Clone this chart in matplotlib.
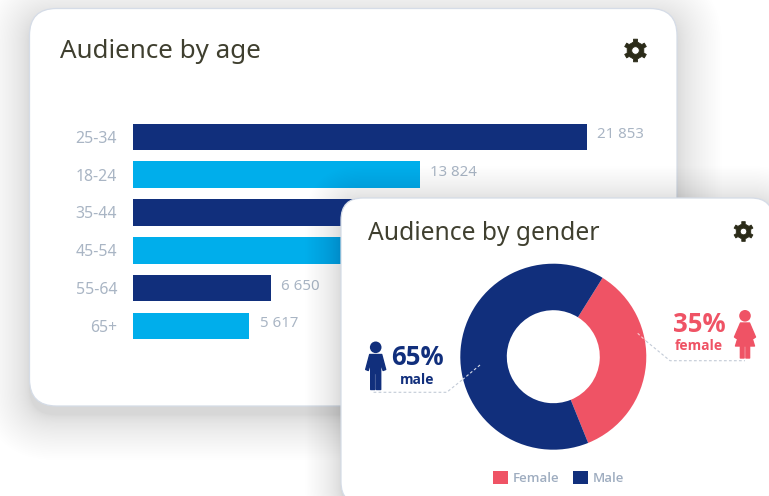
import numpy as np
import matplotlib
matplotlib.use('Agg')
import matplotlib.pyplot as plt
from matplotlib.patches import Circle, FancyBboxPatch, PathPatch, Polygon
from matplotlib.path import Path

plt.rcParams['font.family'] = ['Noto Sans', 'DejaVu Sans']

W, H = 769, 496

# audience numbers
age_groups = ['25-34', '18-24', '35-44', '45-54', '55-64', '65+']
age_counts = [21853, 13824, 11900, 10600, 6650, 5617]
age_labelled = ['25-34', '18-24', '55-64', '65+']
gender_labels = ['Female', 'Male']
gender_share = [35, 65]

NAVY = '#112f7c'
CYAN = '#00aeeb'
RED = '#ef5365'
INK = '#3f3f2f'
GEAR = '#2b2b18'
MUTED = '#a9b5c4'
BOLD = ['Open Sans', 'DejaVu Sans']


def px_axes(left, top, width, height, zorder):
    """Axes placed by pixel box, top-left origin."""
    return fig.add_axes([left / W, 1 - (top + height) / H, width / W, height / H], zorder=zorder)


def canvas(zorder):
    ax = px_axes(0, 0, W, H, zorder)
    ax.set_xlim(0, W)
    ax.set_ylim(H, 0)
    ax.axis('off')
    return ax


def round_box(x0, y0, x1, y1, r, **kw):
    return FancyBboxPatch((x0 + r, y0 + r), x1 - x0 - 2 * r, y1 - y0 - 2 * r,
                          boxstyle=f'round,pad={r},rounding_size={r}', **kw)


def card(ax, x0, y0, x1, y1, r, spread=40, drop=10, strength=0.1):
    # soft shadow built from stacked translucent boxes, sparser towards the rim
    steps = 40
    for i in range(steps):
        grow = spread * (1 - i / steps) ** 1.7
        ax.add_patch(round_box(x0 - grow, y0 - grow + drop, x1 + grow, y1 + grow + drop, r + grow,
                               fc='#3c5480', ec='none', alpha=strength / steps))
    ax.add_patch(round_box(x0, y0, x1, y1, r, fc='white', ec='#d5dce7', lw=0.9))


def gear(ax, cx, cy, R):
    verts = []
    for a in np.deg2rad(np.arange(90, 450, 60)):
        for da, rr in [(-30, 0.72), (-13, 0.76), (-10, 1.0), (10, 1.0), (13, 0.76)]:
            t = a + np.deg2rad(da)
            verts.append((cx + R * rr * np.cos(t), cy - R * rr * np.sin(t)))
    verts.append(verts[0])
    codes = [Path.MOVETO] + [Path.LINETO] * (len(verts) - 2) + [Path.CLOSEPOLY]
    hole = Path.circle((cx, cy), R * 0.33)
    outer = Path(verts, codes)
    ax.add_patch(PathPatch(Path.make_compound_path(outer, hole.deepcopy()),
                           fc=GEAR, ec=GEAR, lw=0.6, joinstyle='round'))


def man(ax, cx, top, color):
    ax.add_patch(Circle((cx, top + 5.8), 5.8, fc=color, ec='none'))
    body = [(cx - 6, top + 13), (cx + 6, top + 13), (cx + 10, top + 28), (cx + 7.4, top + 29),
            (cx + 5, top + 21), (cx + 5, top + 48), (cx + 0.8, top + 48), (cx + 0.8, top + 32),
            (cx - 0.8, top + 32), (cx - 0.8, top + 48), (cx - 5, top + 48), (cx - 5, top + 21),
            (cx - 7.4, top + 29), (cx - 10, top + 28)]
    ax.add_patch(Polygon(body, closed=True, fc=color, ec=color, lw=1, joinstyle='round'))


def woman(ax, cx, top, color):
    ax.add_patch(Circle((cx, top + 5.8), 5.8, fc=color, ec='none'))
    body = [(cx - 4.5, top + 13), (cx + 4.5, top + 13), (cx + 10.5, top + 27), (cx + 8.4, top + 28.5),
            (cx + 5.2, top + 22), (cx + 9.5, top + 36), (cx + 4.6, top + 36), (cx + 4.6, top + 48),
            (cx + 0.9, top + 48), (cx + 0.9, top + 36), (cx - 0.9, top + 36), (cx - 0.9, top + 48),
            (cx - 4.6, top + 48), (cx - 4.6, top + 36), (cx - 9.5, top + 36), (cx - 5.2, top + 22),
            (cx - 8.4, top + 28.5), (cx - 10.5, top + 27)]
    ax.add_patch(Polygon(body, closed=True, fc=color, ec=color, lw=1, joinstyle='round'))


fig = plt.figure(figsize=(W / 100, H / 100), dpi=100, facecolor='white')

# back card
back = canvas(0)
card(back, 29.5, 8.5, 677, 406, 27, spread=45, drop=9, strength=0.11)
back.text(60.5, 52, 'Audience by age', fontsize=18.7, color=INK, va='center', ha='left')
gear(back, 635.5, 50.5, 11.5)

# age bars, one linear axis for all rows
bars = px_axes(132.5, 118, 507.5, 226.8, 1)
bars.patch.set_alpha(0)
bars.barh(age_groups, age_counts, height=0.7,
          color=[NAVY if i % 2 == 0 else CYAN for i in range(len(age_counts))])
bars.set_xlim(0, 24400)
bars.set_ylim(5.5, -0.5)
bars.set_xticks([])
bars.tick_params(axis='y', length=0, pad=11, labelsize=11.4, labelcolor=MUTED)
for side in bars.spines.values():
    side.set_visible(False)
for i, v in enumerate(age_counts):
    if age_groups[i] in age_labelled:
        bars.annotate(f'{v:,}'.replace(',', ' '), (v, i), xytext=(7.5, 1.5), textcoords='offset points',
                      va='center', ha='left', fontsize=10.8, color=MUTED)

# front card
front = canvas(2)
card(front, 341, 198, 773, 504, 22, spread=36, drop=4, strength=0.14)
front.text(367.5, 233, 'Audience by gender', fontsize=17.7, color=INK, va='center', ha='left')
gear(front, 743.5, 231.5, 10)

# donut
cx, cy, radius = 553.3, 356.7, 93
donut = px_axes(cx - radius, cy - radius, 2 * radius, 2 * radius, 3)
wedges, _ = donut.pie(gender_share, colors=[RED, NAVY], startangle=58, counterclock=False,
                      radius=1, wedgeprops=dict(width=0.5, linewidth=0))
donut.set_xlim(-1, 1)
donut.set_ylim(-1, 1)
legend = donut.legend(wedges, gender_labels, ncol=2, loc='center', frameon=False,
                      bbox_to_anchor=(558.5 / W, 1 - 478 / H), bbox_transform=fig.transFigure,
                      handlelength=1.15, handleheight=1.15, handletextpad=0.35, columnspacing=1.0,
                      labelcolor='#9fadc0', prop=dict(family=BOLD, size=9.5, weight='semibold'))

# callouts over the donut
notes = canvas(4)
dash = dict(lw=0.8, ls=(0, (2.5, 2)))
notes.plot([480, 462], [365, 380], color='#d5dbe6', **dash)
notes.plot([462, 446.7, 373], [380, 392.3, 392.3], color='#c3cbd7', **dash)
notes.plot([637.7, 646], [333.3, 341], color='#f9c9cf', **dash)
notes.plot([646, 670, 745], [341, 360.7, 360.7], color='#c3cbd7', **dash)

notes.text(417, 357.5, f'{gender_share[1]}%', fontsize=18.5, fontweight='bold', family=BOLD, color=NAVY,
           ha='center', va='center')
notes.text(417, 379.5, 'male', fontsize=10, fontweight='bold', family=BOLD, color=NAVY, ha='center', va='center')
notes.text(699, 325, f'{gender_share[0]}%', fontsize=18.5, fontweight='bold', family=BOLD, color=RED,
           ha='center', va='center')
notes.text(699, 346.5, 'female', fontsize=10, fontweight='bold', family=BOLD, color=RED, ha='center', va='center')
man(notes, 375.7, 341.5, NAVY)
woman(notes, 745, 310, RED)

fig.savefig('out.png', dpi=100)
